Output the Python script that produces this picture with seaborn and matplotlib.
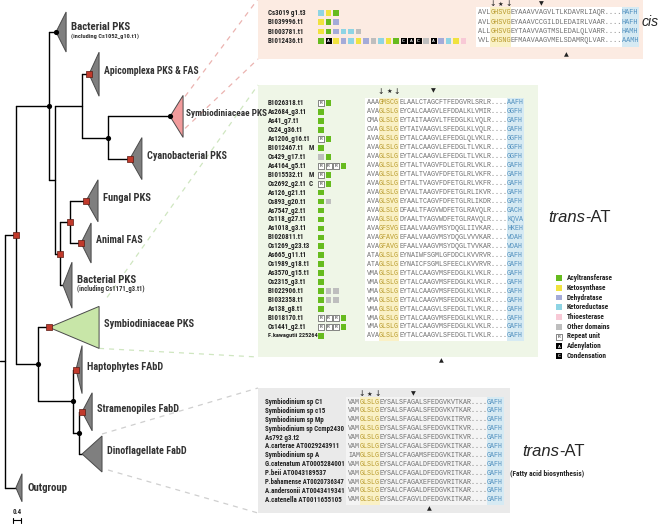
import os
import matplotlib
matplotlib.use("Agg")
import matplotlib.pyplot as plt
import seaborn as sns
import pandas as pd
import numpy as np
from matplotlib.patches import Polygon, Rectangle
from matplotlib import font_manager as fm
from matplotlib.font_manager import FontProperties

# ---------------- tree (depths in substitutions / site) ----------------
node_name = ["root", "A", "B", "E", "F", "H", "G", "I", "C", "J", "K"]
node_parent = [None, "root", "A", "B", "E", "F", "E", "G", "A", "C", "J"]
node_depth = [0.0, 0.52, 2.10, 2.38, 3.67, 4.90, 2.62, 3.10, 1.57, 3.24, 3.52]
node_support = [None, "red", "black", None, None, "black", "red", "red", "black", "black", "black"]

clade_label = ["Bacterial PKS", "Apicomplexa PKS & FAS", "Symbiodiniaceae PKS", "Cyanobacterial PKS",
               "Fungal PKS", "Animal FAS", "Bacterial PKS", "Symbiodiniaceae PKS",
               "Haptophytes FAbD", "Stramenopiles FabD", "Dinoflagellate FabD", "Outgroup"]
clade_note = ["(including Cs1052_g10.t1)", "", "", "", "", "", "(including Cs1171_g3.t1)",
              "", "", "", "", ""]
clade_parent = ["B", "F", "H", "H", "I", "I", "G", "C", "J", "K", "K", "root"]
clade_depth = [2.43, 4.00, 7.86, 5.95, 3.86, 3.62, 2.76, 2.10, 3.38, 3.67, 3.67, 0.52]
clade_spread = [0.48, 0.48, 0.62, 0.57, 0.57, 0.48, 0.43, 2.38, 0.29, 0.48, 0.95, 0.29]
clade_support = ["black", "red", "black", "red", "red", "red", None, "red", "red", "red", None, None]

# ---------------- alignments ----------------
cis_names = ["Cs3019 g1.t3", "B1039996.t1", "B1003781.t1", "B1012436.t1"]
cis_domains = [["KR", "KS", "AT"], ["KS", "AT", "DH"], ["KS", "AT", "DH", "KR", "KR", "OT"],
               ["AT", "A", "KS", "DH", "KR", "KS", "DH", "OT", "KR", "KS", "AT", "C", "A", "C",
                "OT", "A", "DH", "KR", "KS", "TE"]]
cis_seqs = ["AVLGHSVGEYAAAVVAGVLTLKDAVRLIAQR....HAFH",
            "AVLGHSVGEYAAAVCCGILDLEDAIRLVAAR....HAFH",
            "ALLGHSVGEYTAAVVAGTMSLEDALQLVARR....HAMH",
            "VVLGHSNGEFMAAVAAGVMELSDAMRQLVAR....AAMH"]

trans_names = ["B1026318.t1", "As2684_g3.t1", "As41_g7.t1", "Cs24_g36.t1", "As1206_g16.t1",
               "B1012467.t1", "Cs429_g17.t1", "As4164_g5.t1", "B1015532.t1", "Cs2692_g2.t1",
               "As126_g21.t1", "Cs893_g20.t1", "As7547_g2.t1", "Cs118_g27.t1", "As1018_g3.t1",
               "B1020811.t1", "Cs1269_g23.t3", "As665_g11.t1", "Cs1989_g18.t1", "As3570_g15.t1",
               "Cs2315_g3.t1", "B1022906.t1", "B1032358.t1", "As138_g8.t1", "B1018170.t1",
               "Cs1441_g2.t1", "F.kawagutii 225264"]
trans_flags = ["", "", "", "", "", "M", "", "", "M", "C", "", "", "", "", "", "", "", "", "",
               "", "", "", "", "", "", "", ""]
trans_domains = [["R", "AT"], ["AT"], ["AT"], ["AT"], ["R", "AT"], ["AT"], ["OT", "AT"],
                 ["R", "R", "R", "AT"], ["R", "AT"], ["R", "AT"], ["AT"], ["AT", "OT"], ["AT"],
                 ["AT"], ["AT"], ["AT"], ["AT"], ["AT"], ["AT"], ["AT"], ["AT"],
                 ["AT", "OT", "OT"], ["AT", "OT", "OT"], ["AT"], ["R", "R", "R", "AT"],
                 ["R", "R", "R", "AT"], ["AT"]]
trans_seqs = ["AAAGMSCGELAALCTAGCFTFEDGVRLSRLR....AAFH",
              "AVAGLSLGEYCALCAAGVLEFDDALKLVMIR....GGFH",
              "CMAGLSLGEYTAITAAGVLTFEDGLKLVQLR....GAFH",
              "CVAGLSLGEYTAIVAAGVLSFEDGLKLVQLR....GAFH",
              "AVAGLSLGEYTALCAAGVLEFEDGLQLVKLR....GGFH",
              "AVAGLSLGEYTALCAAGVLEFEDGLTLVKLR....GGFH",
              "AVAGLSLGEYTALCAAGVLEFEDGLTLVKLR....GGFH",
              "AVAGLSLGEYTALTVAGVFDLETGLRLVKLR....GAFH",
              "AVAGLSLGEYTALTVAGVFDFETGLRLVKFR....GAFH",
              "AVAGLSLGEYTALTVAGVFDFETGLRLVKFR....GAFH",
              "AVAGLSLGEYVALTAAGVFDFETGLRLIKVR....GAFH",
              "AVAGLSVGEYAALTCAGVFDFETGLRLIKDR....GAFH",
              "AVAGLSLGDFAALTFAGVWDFETGLRAVQLR....GACH",
              "AVAGLSLGDYAALTYAGVWDFETGLRAVQLR....KQVA",
              "AVAGFSVGEIAALVAAGVMSYDQGLIIVKAR....HKEH",
              "AVAGFAVGEFAALVAAGVMSYDQGLVVVKAR....VDAH",
              "AVAGFAVGEFAALVAAGVMSYDQGLTVVKAR....VDAH",
              "ATAGLSLGEYNAIWFSGMLGFDDCLKVVRVR....GAFH",
              "ATAGLSLGEYNAICFSGMLSFEECLKVVRVR....GAFH",
              "VMAGLSLGEYTALCAAGVMSFEDGLKLVKLR....GAFH",
              "VMAGLSLGEYTALCAAGVMSFEDGLKLVKLR....GAFH",
              "VMAGLSLGEYTALCAAGVMSFEDGLKLVKLR....GAFH",
              "VMAGLSLGEYTALCAAGVMSFEDGLKLVKLR....GAFH",
              "VMAGLSLGEYTALCAAGVLSFEDGLTLVKLR....GAFH",
              "VMAGLSLGEYTALCAAGVMSFEDGLKLVKLR....GAFH",
              "VMAGLSLGEYTALCAAGVMSFEDGLKLVKLR....GAFH",
              "AVAGLSLGEYTALCAAGVLSFEDGLTLVKLR....GAFH"]

fab_names = ["Symbiodinium sp C1", "Symbiodinium sp c15", "Symbiodinium sp Mp",
             "Symbiodinium sp Ccmp2430", "As792 g3.t2", "A.carterae AT0029243911",
             "Symbiodinium sp A", "G.catenatum AT0005284001", "P.beii AT0043189537",
             "P.bahamense AT0020736347", "A.andersonii AT0043419341", "A.catenella AT0011655105"]
fab_seqs = ["VAMGLSLGEYSALSFAGALSFEDGVKVTKAR....GAFH",
            "VAMGLSLGEYSALSFAGALSFEDGVKVTKAR....GAFH",
            "VAMGLSLGEYSALSFAGALSFEDGVKITRVR....GAFH",
            "VAMGLSLGEYSALSFAGALSFEDGVKITKVR....GAFH",
            "VAMGLSLGEYSALSFAGALSFEDGVKITKVR....GAFH",
            "VAMGLSLGEYSALCFAGALSFEDGVKITKAR....GAFH",
            "IAMGLSLGEYSALCFAGAMSFEDGVKITKAR....GAFH",
            "VAMGLSLGEYSALCFAGALDFEDGVRITKAR....GAFH",
            "VAMGLSLGEYSALCFAGALDFEDGVRITKAR....GAFH",
            "VAMGLSLGEYSALCFAGAXEFEDGVRITKAR....GAFH",
            "VAMGLSLGEYSALCFAGALDFEDGVKITKAR....GAFH",
            "VAMGLSLGEYSALCFAGVLDFEDGVKITKAR....GAFH"]

legend_keys = ["AT", "KS", "DH", "KR", "TE", "OT", "R", "A", "C"]
legend_text = ["Acyltransferase", "Ketosynthase", "Dehydratase", "Ketoreductase", "Thioesterase",
               "Other domains", "Repeat unit", "Adenylation", "Condensation"]

# ---------------- styles / layout ----------------
dom_colors = {"AT": "#66BB1E", "KS": "#F0E23E", "DH": "#A4ABD8", "KR": "#8ED4E4",
              "TE": "#F8C9D6", "OT": "#BEBEBE"}
MONO = ["Liberation Mono", "DejaVu Sans Mono"]
X0, PX = 5.0, 21.0          # tree: root x, pixels per unit
Y0, ROW = 32.0, 42.2        # tree: first clade y, clade spacing
clade_slot = [0, 1, 2, 3, 4, 5, 6, 7, 8, 9, 10, 10.8]
clade_half = [20, 22, 21, 21, 21, 20, 23, 21, 24, 19, 18, 14]
label_width = [76, 95, 80, 80, 48, 46, 76, 90, 76, 82, 80, 40]   # room for each clade label

sns.set_theme(style="white")
plt.rcParams['font.family'] = ["Liberation Sans", "DejaVu Sans"]


def find_narrow():
    wanted = ["LiberationSansNarrow-Bold.", "ArialNarrow-Bold", "Arial Narrow Bold",
              "RobotoCondensed-Bold.", "NotoSans-ExtraCondensedBold.", "NotoSans-CondensedBold.",
              "OpenSans-CondensedBold", "OpenSans_Condensed-Bold", "DejaVuSansCondensed-Bold."]
    files = [f.fname for f in fm.fontManager.ttflist]
    for w in wanted:
        for f in files:
            if w in os.path.basename(f):
                return f
    return None


NARROW_FILE = find_narrow()


def nfont(size):
    if NARROW_FILE:
        return FontProperties(fname=NARROW_FILE, size=size)
    return FontProperties(family=["Liberation Sans", "DejaVu Sans"], weight="bold", size=size * 0.85)


fig = plt.figure(figsize=(6.6, 5.3), dpi=100)
ax = fig.add_axes([0, 0, 1, 1])
ax.set_xlim(0, 660)
ax.set_ylim(530, 0)
renderer = fig.canvas.get_renderer()


def fit(t, max_w):
    w = t.get_window_extent(renderer).width
    if w > max_w:
        t.set_fontsize(t.get_fontsize() * max_w / w)


def tx(d):
    return X0 + d * PX


# ---- tree geometry ----
pos = {}
for i, lab in enumerate(clade_label):
    pos["clade%d" % i] = (tx(clade_depth[i]), Y0 + clade_slot[i] * ROW)
children = {n: [] for n in node_name}
for i, p in enumerate(clade_parent):
    children[p].append("clade%d" % i)
for n, p in zip(node_name, node_parent):
    if p is not None:
        children[p].append(n)


def place(n):
    ys = []
    for c in children[n]:
        if c not in pos:
            place(c)
        ys.append(pos[c][1])
    pos[n] = (tx(node_depth[node_name.index(n)]), (min(ys) + max(ys)) / 2)
    return pos[n]


place("root")
lw = 1.0
for n in node_name:
    x, y = pos[n]
    ys = [pos[c][1] for c in children[n]]
    ax.plot([x, x], [min(ys), max(ys)], color="black", lw=lw, zorder=3)
    for c in children[n]:
        ax.plot([x, pos[c][0]], [pos[c][1], pos[c][1]], color="black", lw=lw, zorder=3)
rx, ry = pos["root"]
ax.plot([0, rx], [ry, ry], color="black", lw=lw, zorder=3)

tri_fill = ["#7f7f7f"] * 12
tri_fill[2] = "#F29B9C"
tri_fill[7] = "#C8E6A8"
for i, lab in enumerate(clade_label):
    x, y = pos["clade%d" % i]
    h = clade_half[i]
    w = clade_spread[i] * PX
    ax.add_patch(Polygon([(x, y), (x + w, y - h), (x + w, y + h)], closed=True,
                         fc=tri_fill[i], ec="#4a4a4a", lw=0.7, zorder=4))
    ty_ = y - 5 if clade_note[i] else y - 3
    if i == 11:
        ty_ = y
    gap = 3 if i == 2 else 5
    t = ax.text(x + w + gap, ty_, lab, fontproperties=nfont(7.8), color="#333333",
                va="center", ha="left", zorder=6)
    fit(t, label_width[i])
    if clade_note[i]:
        t2 = ax.text(x + w + gap, y + 4, clade_note[i], fontproperties=nfont(5.2),
                     color="#333333", va="center", ha="left", zorder=6)
        fit(t2, 68)

# support markers
sup = []
for n, s in zip(node_name, node_support):
    if s:
        sup.append(dict(x=pos[n][0], y=pos[n][1], kind=s))
for i, s in enumerate(clade_support):
    if s:
        sup.append(dict(x=pos["clade%d" % i][0], y=pos["clade%d" % i][1], kind=s))
sup = pd.DataFrame(sup)
sns.scatterplot(data=sup[sup.kind == "black"], x="x", y="y", color="black", s=14,
                marker="o", linewidth=0, ax=ax, zorder=7, legend=False)
sns.scatterplot(data=sup[sup.kind == "red"], x="x", y="y", color="#C0392B", s=14,
                marker="s", edgecolor="#5a1a12", linewidth=0.5, ax=ax, zorder=7, legend=False)

# scale bar
ax.plot([tx(0.38), tx(0.78)], [520, 520], color="black", lw=0.8)
for xx in (tx(0.38), tx(0.78)):
    ax.plot([xx, xx], [517.5, 522.5], color="black", lw=0.8)
ax.text(tx(0.58), 512, "0.4", fontproperties=nfont(5.0), ha="center", va="center")

# ---------------- panels ----------------
panels = {"cis": (258, -1, 385, 60, "#FCEBE2"),
          "trans": (258, 85, 280, 272, "#EFF6E7"),
          "fab": (258, 388, 252, 125, "#EAEAEA")}
for k, (px_, py_, pw, ph, col) in panels.items():
    ax.add_patch(Rectangle((px_, py_), pw, ph, fc=col, ec="none", zorder=1))

# dashed connectors
dash = (0, (4, 4))
xs_pink = pos["clade2"][0] + clade_spread[2] * PX
ys_pink = pos["clade2"][1]
ax.plot([xs_pink + 2, 258], [ys_pink - 20, -1], ls=dash, color="#EBB3B0", lw=0.9, zorder=2)
ax.plot([xs_pink + 2, 258], [ys_pink + 12, 59], ls=dash, color="#EBB3B0", lw=0.9, zorder=2)
xg = pos["clade7"][0] + clade_spread[7] * PX
yg = pos["clade7"][1]
ax.plot([xg + 8, 258], [yg - 30, 85], ls=dash, color="#CFE6C0", lw=0.9, zorder=2)
ax.plot([xg, 258], [yg + 21, 357], ls=dash, color="#CFE6C0", lw=0.9, zorder=2)
xd = pos["clade10"][0] + clade_spread[10] * PX
yd = pos["clade10"][1]
ax.plot([xd, 258], [yd - 20, 388], ls=dash, color="#CFCFCF", lw=0.9, zorder=2)
ax.plot([xd + 6, 258], [yd + 16, 513], ls=dash, color="#CFCFCF", lw=0.9, zorder=2)


def alignment(names, seqs, y_first, step, name_x, seq_x, cw, box_col, top_y, top_col,
              bot_col, bot_y, name_w):
    n = len(seqs)
    ys = y_first + step * np.arange(n)
    fs = cw / 0.6 * 72 / 100
    top, bottom = ys[0] - step / 2 - 1, ys[-1] + step / 2 + 1
    ax.add_patch(Rectangle((seq_x - 2, top), cw * 35 + 2, bottom - top, fc=box_col, ec="none", zorder=2))
    ax.add_patch(Rectangle((seq_x + 3 * cw, top), 5 * cw, bottom - top, fc="#FAF1C6", ec="none", zorder=2))
    ax.add_patch(Rectangle((seq_x + 35 * cw, top), 4 * cw + 1, bottom - top, fc="#D6EAF3", ec="none", zorder=2))
    for nm, s, y in zip(names, seqs, ys):
        t = ax.text(name_x, y, nm, fontproperties=nfont(5.0), color="#222222",
                    va="center", ha="left", zorder=6)
        fit(t, name_w)
        parts = [(0, 3, "#707070"), (3, 8, "#B99B2E"), (8, 35, "#707070"), (35, 39, "#4F8FBE")]
        for a, b, c in parts:
            ax.text(seq_x + a * cw, y, s[a:b], fontsize=fs, family=MONO, color=c,
                    va="center", ha="left", zorder=6)
    # conserved-site marks
    for col, sym, sz in [(3, "↓", 5.5), (5, "★", 4.5), (7, "↓", 5.5), (top_col, "▼", 4.5)]:
        ax.text(seq_x + (col + 0.5) * cw, top_y, sym, fontsize=sz, family=["DejaVu Sans"],
                ha="center", va="center", color="#222222", zorder=6)
    ax.text(seq_x + (bot_col + 0.5) * cw, bot_y, "▲", fontsize=4.5, family=["DejaVu Sans"],
            ha="center", va="center", color="#222222", zorder=6)
    return ys


cis_y = alignment(cis_names, cis_seqs, 13, 9.3, 268, 478, 4.1, "white", 4, 15, 21, 55, 38)
trans_y = alignment(trans_names, trans_seqs, 103, 8.96, 268, 367, 4.0, "white", 91, 16, 18, 361, 50)
fab_y = alignment(fab_names, fab_seqs, 402, 8.9, 265, 348, 3.97, "#F4F4F4", 394, 16, 20, 509, 80)

for f, y in zip(trans_flags, trans_y):
    if f:
        ax.text(311, y, f, fontproperties=nfont(5.0), ha="center", va="center", zorder=6)

# domain architectures
recs = []
for panel, doms, ys in [("cis", cis_domains, cis_y), ("trans", trans_domains, trans_y)]:
    for d_row, y in zip(doms, ys):
        for j, d in enumerate(d_row):
            recs.append(dict(panel=panel, x=321 + j * 7.5, y=y, dom=d))
for j, (k, t) in enumerate(zip(legend_keys, legend_text)):
    y = 278 + j * 9.75
    recs.append(dict(panel="legend", x=559, y=y, dom=k))
    ax.text(567, y, t, fontproperties=nfont(5.2), color="#222222", va="center", ha="left")
dom_df = pd.DataFrame(recs)

filled = dom_df[dom_df.dom.isin(list(dom_colors))]
sns.scatterplot(data=filled, x="x", y="y", hue="dom", palette=dom_colors, marker="s", s=17,
                linewidth=0, legend=False, ax=ax, zorder=7)
rep = dom_df[dom_df.dom == "R"]
sns.scatterplot(data=rep, x="x", y="y", color="white", marker="s", s=17, edgecolor="#555555",
                linewidth=0.5, legend=False, ax=ax, zorder=7)
blk = dom_df[dom_df.dom.isin(["A", "C"])]
sns.scatterplot(data=blk, x="x", y="y", color="black", marker="s", s=17, linewidth=0,
                legend=False, ax=ax, zorder=7)
for _, r in dom_df[dom_df.dom.isin(["R", "A", "C"])].iterrows():
    ax.text(r.x, r.y + 0.3, r.dom, fontsize=2.8, fontweight="bold", ha="center", va="center",
            color="#555555" if r.dom == "R" else "white", zorder=8)

# panel titles
ax.text(642, 22, "cis", fontsize=10, style="italic", ha="left", va="center")
for xx, yy in [(548, 218), (522, 452)]:
    t1 = ax.text(xx, yy, "trans", fontsize=12, style="italic", ha="left", va="center")
    ax.annotate("-AT", xycoords=t1, xy=(1, 0.5), va="center", ha="left", fontsize=12)
t = ax.text(547, 473, "(Fatty acid biosynthesis)", fontproperties=nfont(5.8), ha="center",
            va="center")
fit(t, 74)

ax.set_xlim(0, 660)
ax.set_ylim(530, 0)
ax.axis("off")
fig.savefig("out.png", dpi=100)
